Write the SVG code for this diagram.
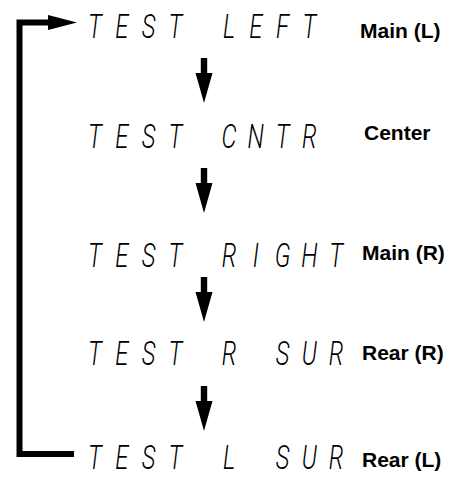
<svg xmlns="http://www.w3.org/2000/svg" width="456" height="478" viewBox="0 0 456 478">
<style>
.seg{font-family:"Roboto","DejaVu Sans",sans-serif;font-weight:300;font-style:italic;font-size:34px;fill:#000;text-anchor:middle}
.lbl{font-family:"Liberation Sans",Arial,sans-serif;font-weight:bold;font-size:21px;fill:#000}
.loop{fill:none;stroke:#000;stroke-width:6;stroke-linejoin:miter}
</style>
<defs>
<path id="down" d="M-3.2,0 H3.2 V15 H8.5 L0,45 L-8.5,15 H-3.2 Z" fill="#000"/>
</defs>
<rect width="456" height="478" fill="#fff"/>
<g id="connectors">
<path class="loop" d="M74,454 H19.5 V22.5 H50"/>
<path d="M48,15 L77,22.5 L48,30 Z" fill="#000"/>
<use href="#down" x="204" y="58"/>
<use href="#down" x="204" y="168"/>
<use href="#down" x="204" y="277"/>
<use href="#down" x="204" y="386"/>
</g>
<g id="n1">
<g transform="translate(95,38) scale(0.7,1)"><text class="seg" x="0 38.29 76.57 114.86 153.14 191.43 229.71 268 306.29">TEST LEFT</text></g>
<text class="lbl" x="360" y="38">Main (L)</text>
</g>
<g id="n2">
<g transform="translate(95,148) scale(0.7,1)"><text class="seg" x="0 38.29 76.57 114.86 153.14 191.43 229.71 268 306.29">TEST CNTR</text></g>
<text class="lbl" x="364" y="140">Center</text>
</g>
<g id="n3">
<g transform="translate(95,267) scale(0.7,1)"><text class="seg" x="0 38.29 76.57 114.86 153.14 191.43 229.71 268 306.29 344.57">TEST RIGHT</text></g>
<text class="lbl" x="362" y="260">Main (R)</text>
</g>
<g id="n4">
<g transform="translate(95,365) scale(0.7,1)"><text class="seg" x="0 38.29 76.57 114.86 153.14 191.43 229.71 268 306.29 344.57">TEST R SUR</text></g>
<text class="lbl" x="362" y="360">Rear (R)</text>
</g>
<g id="n5">
<g transform="translate(95,469) scale(0.7,1)"><text class="seg" x="0 38.29 76.57 114.86 153.14 191.43 229.71 268 306.29 344.57">TEST L SUR</text></g>
<text class="lbl" x="362" y="467">Rear (L)</text>
</g>
</svg>
